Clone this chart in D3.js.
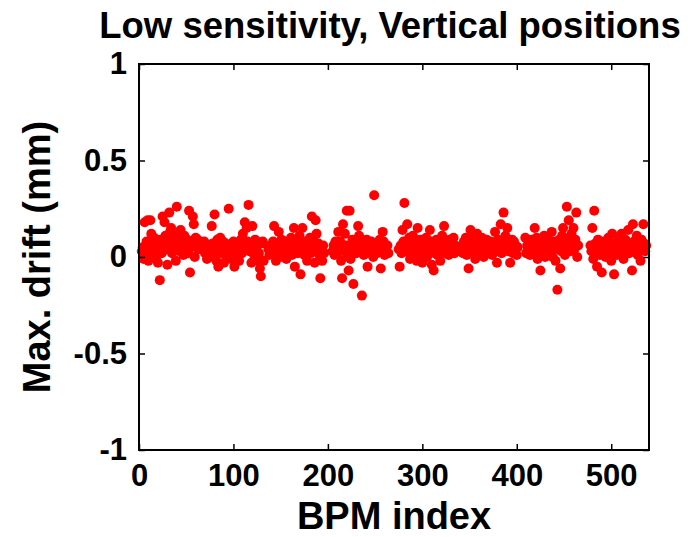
<!DOCTYPE html>
<html>
<head>
<meta charset="utf-8">
<script src="https://cdn.jsdelivr.net/npm/d3@7"></script>
<style>
body { margin: 0; background: #fff; }
text { font-family: "Liberation Sans", Arial, sans-serif; font-weight: bold; }
</style>
</head>
<body>
<div id="chart"></div>
<script>
// BPM groups: first BPM index of each group, then the drift values (mm)
const groupStart = [3, 69, 137, 205, 275, 342, 409, 478];

const drift1 = [0.03, 0.05, -0.01, 0.18, 0.02, 0.08, 0.19, -0.02, 0.04, 0.19, 0.12, 0.06, 0.01, 0.10, 0.03, -0.01,
    0.07, -0.03, 0.05, -0.12, 0.09, 0.02, 0.21, 0.06, 0.18, 0.11, 0.04, -0.04, 0.08, 0.23, 0.13, 0.15, 0.02, 0.07,
    0.10, 0.05, -0.02, 0.26, 0.09, 0.12, 0.03, 0.14, 0.06, 0.08, 0.01, 0.11, 0.04, 0.07, 0.09, 0.02, 0.24, -0.08,
    0.05, 0.08, 0.21, 0.17, 0.00, 0.10, 0.06, 0.09, 0.04];
const drift2 = [0.08, 0.02, 0.05, -0.01, 0.04, 0.06, 0.00, 0.03, 0.16, 0.07, 0.01, 0.22, 0.05, -0.02, 0.09, -0.05,
    0.03, 0.10, 0.06, 0.02, 0.08, -0.03, 0.04, 0.07, 0.01, 0.05, 0.25, 0.03, -0.01, 0.06, 0.02, 0.08, -0.05, 0.04,
    0.01, 0.07, 0.03, -0.02, 0.05, 0.09, 0.02, 0.12, 0.06, 0.18, 0.04, 0.15, 0.08, 0.27, 0.03, 0.07, -0.03, 0.16,
    0.05, 0.01, 0.09, 0.04, 0.06, -0.02, 0.02, -0.06, -0.10, 0.07, 0.08, -0.02];
const drift3 = [0.04, 0.01, 0.06, 0.02, 0.03, 0.08, 0.16, 0.05, -0.02, 0.03, 0.07, 0.13, 0.01, 0.04, 0.09, 0.00,
    0.06, 0.03, 0.08, -0.01, 0.05, 0.02, 0.07, 0.04, 0.10, 0.01, 0.06, 0.15, -0.05, 0.03, 0.08, 0.02, 0.05, 0.11,
    -0.09, 0.04, 0.15, 0.06, 0.01, 0.08, 0.03, -0.02, 0.07, 0.05, 0.10, 0.02, 0.21, 0.04, 0.08, -0.03, 0.19, 0.12,
    0.03, 0.07, 0.01, -0.11, 0.05, -0.02, 0.06, 0.02];
const drift4 = [0.03, 0.06, 0.01, 0.08, 0.04, 0.02, 0.13, 0.05, 0.08, -0.02, -0.11, 0.17, 0.03, 0.12, 0.06, 0.24,
    0.01, -0.07, 0.24, -0.01, 0.05, 0.09, -0.14, 0.04, 0.07, 0.02, 0.06, 0.16, 0.11, 0.03, 0.08, -0.20, 0.05, 0.01,
    0.07, 0.04, 0.09, -0.05, 0.06, 0.03, 0.02, 0.08, 0.05, 0.00, 0.32, 0.04, 0.07, 0.02, 0.06, 0.03, 0.09, -0.06,
    0.05, 0.13, 0.08, 0.01, 0.04, 0.03, 0.06, 0.02];
const drift5 = [0.04, -0.05, 0.06, 0.02, 0.14, 0.08, 0.28, 0.03, 0.05, 0.17, 0.04, 0.10, -0.01, 0.07, 0.02, 0.11,
    0.05, 0.03, 0.08, -0.02, 0.15, 0.06, 0.01, 0.09, 0.04, -0.03, 0.07, 0.02, 0.05, 0.10, 0.00, 0.06, 0.03, 0.14,
    0.08, -0.04, 0.05, -0.07, 0.02, 0.06, 0.09, 0.01, 0.04, 0.07, -0.02, 0.05, 0.11, 0.03, 0.16, 0.06, 0.02, 0.08,
    0.04, 0.01, 0.09, 0.05, 0.03, 0.07, 0.10, 0.02, 0.06, 0.04];
const drift6 = [0.05, 0.02, 0.08, 0.04, 0.10, 0.01, 0.06, -0.06, 0.09, 0.14, 0.03, 0.07, 0.05, 0.11, -0.01, 0.04,
    0.12, 0.06, 0.02, 0.08, 0.03, 0.10, 0.05, 0.00, 0.07, 0.04, 0.09, 0.02, 0.06, 0.03, 0.08, 0.05, 0.01, 0.07,
    0.04, 0.13, 0.06, -0.03, 0.09, 0.03, 0.05, 0.17, 0.02, 0.08, 0.23, 0.04, 0.11, 0.06, 0.15, 0.03, 0.07, -0.03,
    0.05, 0.09, 0.02, 0.08, 0.04, 0.06, 0.01, 0.05];
const drift7 = [0.10, 0.02, 0.06, 0.04, 0.08, 0.01, 0.05, 0.09, 0.03, 0.07, 0.15, 0.04, 0.10, -0.01, 0.06, 0.02,
    -0.07, 0.08, 0.05, 0.03, 0.11, 0.00, 0.07, 0.04, 0.09, 0.02, 0.06, 0.03, 0.13, 0.00, 0.08, 0.05, -0.02, 0.07,
    -0.17, 0.04, 0.09, -0.06, 0.03, 0.11, 0.15, 0.06, 0.01, 0.08, 0.26, 0.05, 0.19, 0.10, 0.03, 0.12, 0.07, 0.15,
    0.04, 0.09, 0.23, 0.00, 0.06];
const drift8 = [0.06, 0.03, 0.15, -0.01, 0.24, 0.07, 0.02, -0.05, 0.09, 0.04, 0.01, 0.06, -0.08, 0.03, 0.08, 0.05,
    0.00, 0.07, 0.02, 0.10, 0.04, 0.06, -0.02, 0.12, 0.03, -0.09, 0.07, 0.05, 0.01, 0.08, 0.04, 0.10, 0.02, 0.12,
    0.06, -0.01, 0.05, 0.09, 0.03, 0.07, 0.14, 0.02, 0.06, 0.04, -0.07, 0.17, 0.08, 0.03, 0.05, 0.11, 0.01, 0.07,
    0.04, -0.02, 0.09, 0.05, 0.17, 0.07, 0.03, 0.06];

const xTicks = [0, 100, 200, 300, 400, 500];
const yTicks = [-1, -0.5, 0, 0.5, 1];

const width = 691, height = 537;
const box = {left: 139, right: 649, top: 64, bottom: 450};

const groups = [drift1, drift2, drift3, drift4, drift5, drift6, drift7, drift8];
let points = [];
groups.forEach(function(g, k) {
    g.forEach(function(v, j) {
        points.push({bpm: groupStart[k] + j, drift: v});
    });
});

let svg = d3.select("#chart")
    .append("svg")
    .attr("width", width)
    .attr("height", height);

let x = d3.scaleLinear().domain([0, 540]).range([box.left, box.right]);
let y = d3.scaleLinear().domain([-1, 1]).range([box.bottom, box.top]);

// markers
svg.append("g")
    .selectAll("circle")
    .data(points)
    .enter()
    .append("circle")
    .attr("cx", d => x(d.bpm))
    .attr("cy", d => y(d.drift))
    .attr("r", 5)
    .attr("fill", "#ff0000");

// axes, ticks pointing inward on all four sides (matlab box on)
let xAxis = svg.append("g")
    .attr("transform", `translate(0, ${box.bottom})`)
    .call(d3.axisBottom(x).tickValues(xTicks).tickSizeInner(-6).tickSizeOuter(0).tickPadding(14));
let yAxis = svg.append("g")
    .attr("transform", `translate(${box.left}, 0)`)
    .call(d3.axisLeft(y).tickValues(yTicks).tickSizeInner(-6).tickSizeOuter(0).tickPadding(12)
        .tickFormat(d => String(d)));
svg.append("g")
    .attr("transform", `translate(0, ${box.top})`)
    .call(d3.axisTop(x).tickValues(xTicks).tickSizeInner(-6).tickSizeOuter(0).tickFormat(""));
svg.append("g")
    .attr("transform", `translate(${box.right}, 0)`)
    .call(d3.axisRight(y).tickValues(yTicks).tickSizeInner(-6).tickSizeOuter(0).tickFormat(""));

svg.selectAll(".domain").remove();
svg.selectAll(".tick line").attr("stroke", "#000").attr("stroke-width", 1.5);
svg.selectAll(".tick text")
    .attr("fill", "#000")
    .style("font-size", "31px");

svg.append("rect")
    .attr("x", box.left)
    .attr("y", box.top)
    .attr("width", box.right - box.left)
    .attr("height", box.bottom - box.top)
    .attr("fill", "none")
    .attr("stroke", "#000")
    .attr("stroke-width", 2);

const midX = (box.left + box.right) / 2;

svg.append("text")
    .attr("x", midX - 4)
    .attr("y", 38)
    .style("text-anchor", "middle")
    .style("font-size", "36.5px")
    .text("Low sensitivity, Vertical positions");

svg.append("text")
    .attr("x", midX)
    .attr("y", 529)
    .style("text-anchor", "middle")
    .style("font-size", "38px")
    .text("BPM index");

svg.append("text")
    .attr("transform", `translate(50, ${(box.top + box.bottom) / 2})rotate(-90)`)
    .style("text-anchor", "middle")
    .style("font-size", "38px")
    .text("Max. drift (mm)");
</script>
</body>
</html>
